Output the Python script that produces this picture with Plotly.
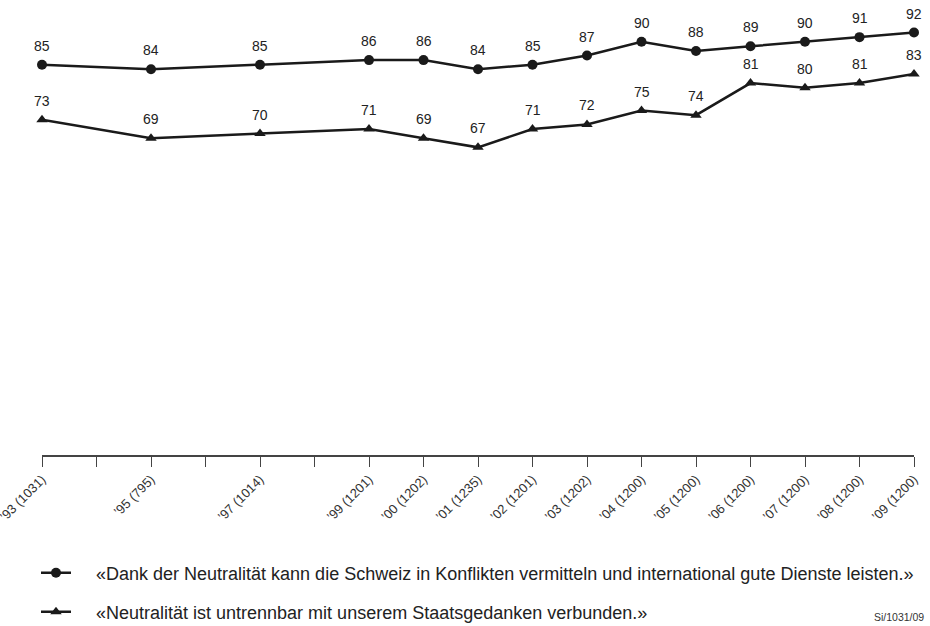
import plotly.graph_objects as go

years = [1993, 1995, 1997, 1999, 2000, 2001, 2002, 2003, 2004, 2005, 2006, 2007, 2008, 2009]
dienste = [85, 84, 85, 86, 86, 84, 85, 87, 90, 88, 89, 90, 91, 92]
staat = [73, 69, 70, 71, 69, 67, 71, 72, 75, 74, 81, 80, 81, 83]
tick_years = list(range(1993, 2010))
tick_text = ["’93 (1031)", "", "’95 (795)", "", "’97 (1014)", "", "’99 (1201)", "’00 (1202)",
             "’01 (1235)", "’02 (1201)", "’03 (1202)", "’04 (1200)", "’05 (1200)", "’06 (1200)",
             "’07 (1200)", "’08 (1200)", "’09 (1200)"]
name1 = "«Dank der Neutralität kann die Schweiz in Konflikten vermitteln und international gute Dienste leisten.»"
name2 = "«Neutralität ist untrennbar mit unserem Staatsgedanken verbunden.»"

LINE = "#1a1a1a"
FONT = "Liberation Sans, Arial, sans-serif"
pad = "\u00a0" * 4

fig = go.Figure()
fig.add_trace(go.Scatter(x=years, y=dienste, mode="lines+markers", name=pad + name1,
                         line=dict(color=LINE, width=2.5),
                         marker=dict(symbol="circle", size=10, color=LINE),
                         legend="legend", cliponaxis=False))
fig.add_trace(go.Scatter(x=years, y=staat, mode="lines+markers", name=pad + name2,
                         line=dict(color=LINE, width=2.5),
                         marker=dict(symbol="triangle-up", size=10, color=LINE),
                         legend="legend2", cliponaxis=False))

for xs, ys in ((years, dienste), (years, staat)):
    for x, y in zip(xs, ys):
        fig.add_annotation(x=x, y=y, text=str(y), showarrow=False, yshift=19,
                           font=dict(size=14, color="#222", family=FONT))

PLOT_L, PLOT_W, PLOT_B, PLOT_H = 42, 872, 455, 450
fig.add_annotation(xref="paper", yref="paper", x=(926 - PLOT_L) / PLOT_W, y=(PLOT_B - 617) / PLOT_H,
                   text="Si/1031/09", showarrow=False, xanchor="right", yanchor="middle",
                   font=dict(size=10.5, color="#333", family=FONT))

legend_common = dict(xref="paper", yref="paper", xanchor="left", yanchor="middle",
                     font=dict(size=18, color="#222", family=FONT), bgcolor="rgba(0,0,0,0)")
fig.update_layout(
    width=930, height=626,
    margin=dict(l=42, r=16, t=5, b=171, autoexpand=False),
    paper_bgcolor="white", plot_bgcolor="white",
    font=dict(family=FONT, color="#222"),
    showlegend=True,
    legend=dict(x=(36 - PLOT_L) / PLOT_W, y=(PLOT_B - 573) / PLOT_H, **legend_common),
    legend2=dict(x=(36 - PLOT_L) / PLOT_W, y=(PLOT_B - 612) / PLOT_H, **legend_common),
    xaxis=dict(range=[1993, 2009], tickvals=tick_years, ticktext=tick_text, tickangle=-45,
               automargin=False, ticklabeloverflow="allow",
               showgrid=False, zeroline=False, showline=True, linecolor="#444", linewidth=1.5,
               ticks="outside", ticklen=10, tickcolor="#444", tickwidth=1.2,
               tickfont=dict(size=13, color="#333", family=FONT)),
    yaxis=dict(range=[0, 98], visible=False, showgrid=False, zeroline=False, automargin=False),
)
fig.write_html("out.html", config={"displayModeBar": False},
               post_script="document.body.style.margin='0';document.body.style.overflow='hidden';")
